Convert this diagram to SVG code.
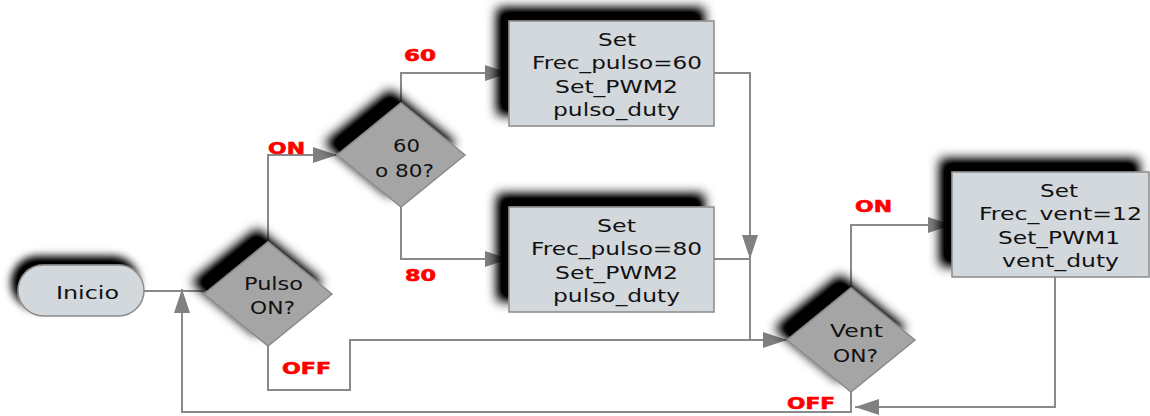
<svg xmlns="http://www.w3.org/2000/svg" width="1150" height="416" viewBox="0 0 1150 416">
<style>
.box{fill:#d3d8dd;stroke:#8a8a8a;stroke-width:1.5}
.dia{fill:#a5a5a5;stroke:#8a8a8a;stroke-width:1.5}
.t{font-family:"DejaVu Sans","Verdana",sans-serif;font-size:18px;fill:#111}
.lab{font-family:"DejaVu Sans","Verdana",sans-serif;font-weight:bold;font-size:16px;fill:#ff0000;stroke:#ff0000;stroke-width:0.6}
.ln{fill:none;stroke:#8a8a8a;stroke-width:2}
</style>
<defs>
<filter id="sh" x="-40%" y="-50%" width="180%" height="200%">
<feGaussianBlur in="SourceAlpha" stdDeviation="6" result="b"/>
<feOffset in="b" dx="-11" dy="-12" result="o"/>
<feComponentTransfer in="o" result="s"><feFuncA type="linear" slope="1.3"/></feComponentTransfer>
<feMerge><feMergeNode in="s"/><feMergeNode in="SourceGraphic"/></feMerge>
</filter>
<filter id="sh2" x="-40%" y="-60%" width="180%" height="220%">
<feGaussianBlur in="SourceAlpha" stdDeviation="4.5" result="b"/>
<feOffset in="b" dx="-6" dy="-8" result="o"/>
<feComponentTransfer in="o" result="s"><feFuncA type="linear" slope="1.1"/></feComponentTransfer>
<feMerge><feMergeNode in="s"/><feMergeNode in="SourceGraphic"/></feMerge>
</filter>
<marker id="ar" viewBox="0 0 24 16" refX="24" refY="8" markerWidth="24" markerHeight="16" markerUnits="userSpaceOnUse" orient="auto">
<path d="M0,0 L24,8 L0,16 Z" fill="#808080"/>
</marker>
</defs>
<g id="connectors">
<path class="ln" d="M144,291 H204"/>
<path class="ln" d="M268,243 V155 H337" marker-end="url(#ar)"/>
<path class="ln" d="M401,103 V73 H509" marker-end="url(#ar)"/>
<path class="ln" d="M401,206 V259 H509" marker-end="url(#ar)"/>
<path class="ln" d="M714,73 H750 V259" marker-end="url(#ar)"/>
<path class="ln" d="M714,259 H750 V340"/>
<path class="ln" d="M268,346 V390 H350 V340 H787" marker-end="url(#ar)"/>
<path class="ln" d="M851,288 V225 H952" marker-end="url(#ar)"/>
<path class="ln" d="M1055,277 V407 H855" marker-end="url(#ar)"/>
<path class="ln" d="M851,392 V412 H182 V289" marker-end="url(#ar)"/>
</g>
<g id="labels">
<text class="lab" x="268" y="154" textLength="37" lengthAdjust="spacingAndGlyphs">ON</text>
<text class="lab" x="404" y="61" textLength="32" lengthAdjust="spacingAndGlyphs">60</text>
<text class="lab" x="405" y="281" textLength="31" lengthAdjust="spacingAndGlyphs">80</text>
<text class="lab" x="282" y="374" textLength="49" lengthAdjust="spacingAndGlyphs">OFF</text>
<text class="lab" x="855" y="212" textLength="37" lengthAdjust="spacingAndGlyphs">ON</text>
<text class="lab" x="787" y="409" textLength="48" lengthAdjust="spacingAndGlyphs">OFF</text>
</g>
<g id="inicio" filter="url(#sh2)">
<rect class="box" x="18" y="265" width="126" height="51" rx="25.5"/>
</g>
<text class="t" x="56" y="299" textLength="63" lengthAdjust="spacingAndGlyphs">Inicio</text>
<g id="pulso_on" filter="url(#sh)">
<polygon class="dia" points="204,294 268,242 332,294 268,346"/>
</g>
<text class="t" x="244" y="290" textLength="59" lengthAdjust="spacingAndGlyphs">Pulso</text>
<text class="t" x="250" y="314" textLength="45" lengthAdjust="spacingAndGlyphs">ON?</text>
<g id="sel_60_80" filter="url(#sh)">
<polygon class="dia" points="337,155 401,103 465,155 401,207"/>
</g>
<text class="t" x="393" y="152" textLength="27" lengthAdjust="spacingAndGlyphs">60</text>
<text class="t" x="375" y="177" textLength="59" lengthAdjust="spacingAndGlyphs">o 80?</text>
<g id="box60" filter="url(#sh)">
<rect class="box" x="509" y="21" width="205" height="105"/>
</g>
<text class="t" x="598" y="46" textLength="38" lengthAdjust="spacingAndGlyphs">Set</text>
<text class="t" x="532" y="69" textLength="170" lengthAdjust="spacingAndGlyphs">Frec_pulso=60</text>
<text class="t" x="555" y="93" textLength="123" lengthAdjust="spacingAndGlyphs">Set_PWM2</text>
<text class="t" x="553" y="116" textLength="127" lengthAdjust="spacingAndGlyphs">pulso_duty</text>
<g id="box80" filter="url(#sh)">
<rect class="box" x="509" y="207" width="205" height="105"/>
</g>
<text class="t" x="597" y="232" textLength="39" lengthAdjust="spacingAndGlyphs">Set</text>
<text class="t" x="531" y="255" textLength="171" lengthAdjust="spacingAndGlyphs">Frec_pulso=80</text>
<text class="t" x="555" y="279" textLength="123" lengthAdjust="spacingAndGlyphs">Set_PWM2</text>
<text class="t" x="553" y="302" textLength="127" lengthAdjust="spacingAndGlyphs">pulso_duty</text>
<g id="vent_on" filter="url(#sh)">
<polygon class="dia" points="787,340 851,288 915,340 851,392"/>
</g>
<text class="t" x="830" y="337" textLength="53" lengthAdjust="spacingAndGlyphs">Vent</text>
<text class="t" x="833" y="362" textLength="45" lengthAdjust="spacingAndGlyphs">ON?</text>
<g id="boxvent" filter="url(#sh)">
<rect class="box" x="952" y="172" width="197" height="105"/>
</g>
<text class="t" x="1040" y="197" textLength="38" lengthAdjust="spacingAndGlyphs">Set</text>
<text class="t" x="979" y="220" textLength="163" lengthAdjust="spacingAndGlyphs">Frec_vent=12</text>
<text class="t" x="998" y="244" textLength="122" lengthAdjust="spacingAndGlyphs">Set_PWM1</text>
<text class="t" x="1002" y="267" textLength="117" lengthAdjust="spacingAndGlyphs">vent_duty</text>
</svg>
